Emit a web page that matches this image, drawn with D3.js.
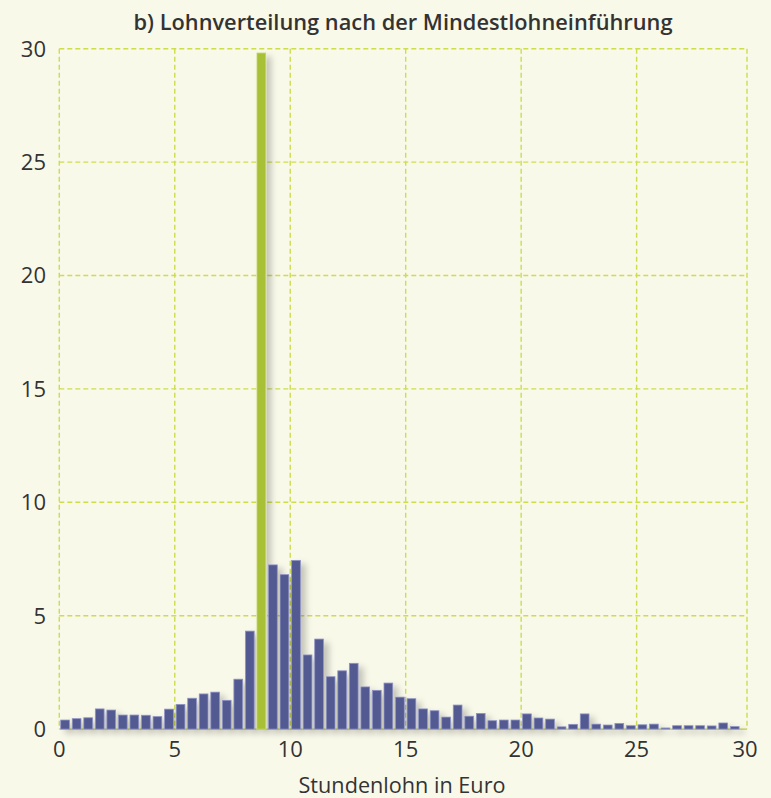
<!DOCTYPE html>
<html>
<head>
<meta charset="utf-8">
<script src="https://cdn.jsdelivr.net/npm/d3@7"></script>
<style>
  html, body { margin: 0; padding: 0; background: #f9f9ea; }
  svg { display: block; }
</style>
</head>
<body>
<svg id="chart" width="771" height="798"></svg>
<script>
const title = "b) Lohnverteilung nach der Mindestlohneinführung";
const xLabel = "Stundenlohn in Euro";
const binWidth = 0.5;
const binStarts = d3.range(0, 29.01, 0.5);
const shares = [
  0.40, 0.46, 0.50, 0.89, 0.84, 0.62, 0.62, 0.61, 0.55, 0.88,
  1.09, 1.36, 1.55, 1.63, 1.27, 2.20, 4.32, 29.81, 7.24, 6.81,
  7.44, 3.27, 3.97, 2.31, 2.57, 2.90, 1.86, 1.71, 2.03, 1.41,
  1.34, 0.89, 0.81, 0.53, 1.06, 0.57, 0.69, 0.37, 0.40, 0.40,
  0.67, 0.49, 0.44, 0.10, 0.21, 0.67, 0.22, 0.18, 0.25, 0.15,
  0.19, 0.22, 0.05, 0.15, 0.15, 0.15, 0.14, 0.27, 0.11
];
const minimumWageBin = 8.5;
const xTicks = [0, 5, 10, 15, 20, 25, 30];
const yTicks = [0, 5, 10, 15, 20, 25, 30];

const data = binStarts.map((b, i) => ({ bin: b, value: shares[i] }));

const svg = d3.select("#chart");
svg.append("rect").attr("width", 771).attr("height", 798).attr("fill", "#f9f9ea");

const defs = svg.append("defs");
const f = defs.append("filter").attr("id", "shadow")
  .attr("x", "-50%").attr("y", "-10%").attr("width", "250%").attr("height", "130%");
f.append("feDropShadow").attr("dx", 5).attr("dy", 4).attr("stdDeviation", 3)
  .attr("flood-color", "#000").attr("flood-opacity", 0.22);

const x = d3.scaleLinear().domain([0, 29.78]).range([59.3, 747]).clamp(true);
const y = d3.scaleLinear().domain([0, 30]).range([729.1, 48.7]);

const gridColor = "#cddd4c";
// horizontal grid
svg.append("g").selectAll("line").data(yTicks.filter(d => d > 0)).join("line")
  .attr("x1", x(0)).attr("x2", x(30))
  .attr("y1", d => y(d)).attr("y2", d => y(d))
  .attr("stroke", gridColor).attr("stroke-width", 1.4)
  .attr("stroke-dasharray", "5,3");
// vertical grid
svg.append("g").selectAll("line").data(xTicks).join("line")
  .attr("x1", d => x(d)).attr("x2", d => x(d))
  .attr("y1", y(30)).attr("y2", y(0))
  .attr("stroke", gridColor).attr("stroke-width", 1.4)
  .attr("stroke-dasharray", "5,3");
// baseline
svg.append("line")
  .attr("x1", x(0)).attr("x2", x(30)).attr("y1", y(0)).attr("y2", y(0))
  .attr("stroke", "#bfd24a").attr("stroke-width", 1.3);

// bars
const pad = 1.4;
svg.append("g").attr("filter", "url(#shadow)")
  .selectAll("rect").data(data).join("rect")
  .attr("x", d => x(d.bin) + pad)
  .attr("width", d => x(d.bin + binWidth) - x(d.bin) - 2 * pad)
  .attr("y", d => y(d.value))
  .attr("height", d => y(0) - y(d.value))
  .attr("fill", d => d.bin === minimumWageBin ? "#a8c035" : "#535a92")
  .attr("stroke", d => d.bin === minimumWageBin ? "#c3d76a" : "#8f93c3")
  .attr("stroke-width", 0.8);

const font = "'Open Sans', 'Noto Sans', sans-serif";
// y tick labels
svg.append("g").selectAll("text").data(yTicks).join("text")
  .attr("x", 46).attr("y", d => y(d)).attr("dy", "0.36em")
  .attr("text-anchor", "end")
  .attr("font-family", font).attr("font-size", 22)
  .attr("fill", "#333").text(d => d);
// x tick labels
svg.append("g").selectAll("text").data(xTicks).join("text")
  .attr("x", d => x(d) - (d === 30 ? 2 : 0)).attr("y", 757)
  .attr("text-anchor", "middle")
  .attr("font-family", font).attr("font-size", 22)
  .attr("fill", "#333").text(d => d);

// axis title
svg.append("text")
  .attr("x", 402).attr("y", 793).attr("text-anchor", "middle")
  .attr("font-family", font).attr("font-size", 22)
  .attr("textLength", 207).attr("lengthAdjust", "spacingAndGlyphs")
  .attr("fill", "#333").text(xLabel);

// title
svg.append("text")
  .attr("x", 403).attr("y", 30).attr("text-anchor", "middle")
  .attr("font-family", font)
  .attr("font-weight", 600).attr("font-size", 22)
  .attr("textLength", 539).attr("lengthAdjust", "spacingAndGlyphs")
  .attr("fill", "#333").text(title);
</script>
</body>
</html>
